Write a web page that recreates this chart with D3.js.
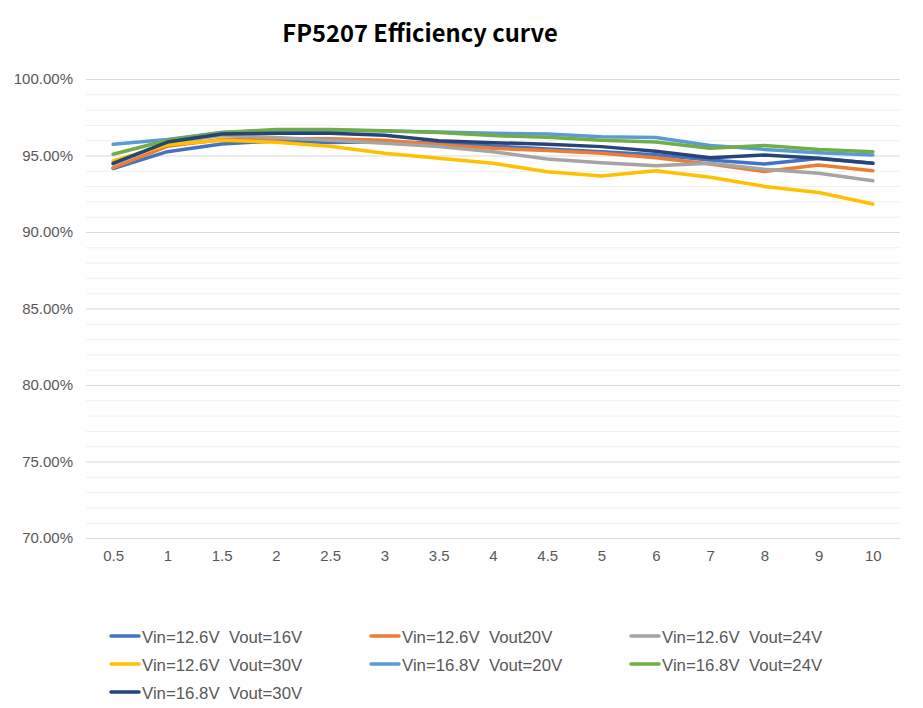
<!DOCTYPE html>
<html>
<head>
<meta charset="utf-8">
<script src="https://cdn.jsdelivr.net/npm/d3@7"></script>
<style>
  html, body { margin: 0; padding: 0; background: #fff; }
  svg { display: block; }
</style>
</head>
<body>
<svg id="chart" width="923" height="708"></svg>
<script>
const categories = ["0.5","1","1.5","2","2.5","3","3.5","4","4.5","5","6","7","8","9","10"];
const seriesNames = [
  "Vin=12.6V  Vout=16V",
  "Vin=12.6V  Vout20V",
  "Vin=12.6V  Vout=24V",
  "Vin=12.6V  Vout=30V",
  "Vin=16.8V  Vout=20V",
  "Vin=16.8V  Vout=24V",
  "Vin=16.8V  Vout=30V"
];
const seriesColors = ["#4472C4","#ED7D31","#A5A5A5","#FFC000","#5B9BD5","#70AD47","#264478"];
const s1 = [94.15, 95.25, 95.75, 95.95, 95.85, 95.9, 95.8, 95.62, 95.42, 95.25, 95.05, 94.7, 94.44, 94.8, 94.5];
const s2 = [94.2, 95.6, 96.05, 96.1, 96.1, 96.0, 95.71, 95.47, 95.32, 95.14, 94.85, 94.45, 93.95, 94.38, 94.0];
const s3 = [94.45, 95.85, 96.3, 96.17, 96.0, 95.8, 95.58, 95.25, 94.77, 94.53, 94.33, 94.5, 94.1, 93.84, 93.35];
const s4 = [94.65, 95.7, 96.0, 95.86, 95.6, 95.15, 94.82, 94.49, 93.94, 93.66, 94.0, 93.58, 92.98, 92.58, 91.83];
const s5 = [95.73, 96.05, 96.5, 96.62, 96.65, 96.6, 96.54, 96.45, 96.4, 96.23, 96.18, 95.65, 95.4, 95.18, 95.03];
const s6 = [95.08, 96.0, 96.5, 96.7, 96.7, 96.62, 96.5, 96.3, 96.19, 96.0, 95.88, 95.47, 95.66, 95.4, 95.25];
const s7 = [94.49, 95.88, 96.4, 96.45, 96.45, 96.32, 95.97, 95.84, 95.73, 95.58, 95.28, 94.85, 95.03, 94.82, 94.49];
const seriesValues = [s1, s2, s3, s4, s5, s6, s7];
const majorTicks = [70, 75, 80, 85, 90, 95, 100];
const minorTicks = d3.range(70, 101, 1);
const title = "FP5207 Efficiency curve";

const svg = d3.select("#chart");
const plotLeft = 86, plotRight = 900, plotTop = 79, plotBottom = 538;

const x = d3.scalePoint().domain(categories).range([plotLeft, plotRight]).padding(0.5);
const y = d3.scaleLinear().domain([70, 100]).range([plotBottom, plotTop]);

// minor grid
svg.append("g").selectAll("line").data(minorTicks.filter(d => d % 5 !== 0)).join("line")
  .attr("x1", plotLeft).attr("x2", plotRight)
  .attr("y1", d => y(d) + 0.5).attr("y2", d => y(d) + 0.5)
  .attr("stroke", "#f0f0f0").attr("stroke-width", 1);

// major grid
svg.append("g").selectAll("line").data(majorTicks).join("line")
  .attr("x1", plotLeft).attr("x2", plotRight)
  .attr("y1", d => y(d) + 0.5).attr("y2", d => y(d) + 0.5)
  .attr("stroke", "#d9d9d9").attr("stroke-width", 1);

// y axis labels
const yAxis = d3.axisLeft(y).tickValues(majorTicks).tickSize(0).tickPadding(0)
  .tickFormat(d => d.toFixed(2) + "%");
const gy = svg.append("g").attr("transform", `translate(${plotLeft - 13},0)`).call(yAxis);
gy.select(".domain").remove();
gy.selectAll("text").attr("fill", "#595959").attr("font-family", "Liberation Sans, Arial, sans-serif")
  .attr("font-size", 15);

// x axis labels
const xAxis = d3.axisBottom(x).tickSize(0).tickPadding(0);
const gx = svg.append("g").attr("transform", `translate(0,${plotBottom + 12})`).call(xAxis);
gx.select(".domain").remove();
gx.selectAll("text").attr("fill", "#595959").attr("font-family", "Liberation Sans, Arial, sans-serif")
  .attr("font-size", 15);

// lines
const line = d3.line().x((d, i) => x(categories[i])).y(d => y(d));
seriesValues.forEach((vals, k) => {
  svg.append("path").datum(vals)
    .attr("d", line)
    .attr("fill", "none")
    .attr("stroke", seriesColors[k])
    .attr("stroke-width", 3.5)
    .attr("stroke-linejoin", "round")
    .attr("stroke-linecap", "round");
});

// title
svg.append("text").attr("x", 420).attr("y", 42)
  .attr("text-anchor", "middle")
  .attr("font-family", "Noto Sans CJK SC, Noto Sans, sans-serif")
  .attr("font-weight", "bold").attr("font-size", 23.7).attr("fill", "#000")
  .text(title);

// legend
const legendCols = [110, 370, 630];
const legendRows = [636, 664, 692];
seriesNames.forEach((name, k) => {
  const cx = legendCols[k % 3], cy = legendRows[Math.floor(k / 3)];
  const g = svg.append("g");
  g.append("line").attr("x1", cx + 1).attr("x2", cx + 29).attr("y1", cy).attr("y2", cy)
    .attr("stroke", seriesColors[k]).attr("stroke-width", 3.5).attr("stroke-linecap", "round");
  g.append("text").attr("x", cx + 32).attr("y", cy + 1).attr("dy", "0.35em")
    .attr("font-family", "Liberation Sans, Arial, sans-serif").attr("font-size", 16.8)
    .attr("fill", "#595959").style("white-space", "pre")
    .text(name);
});
</script>
</body>
</html>
